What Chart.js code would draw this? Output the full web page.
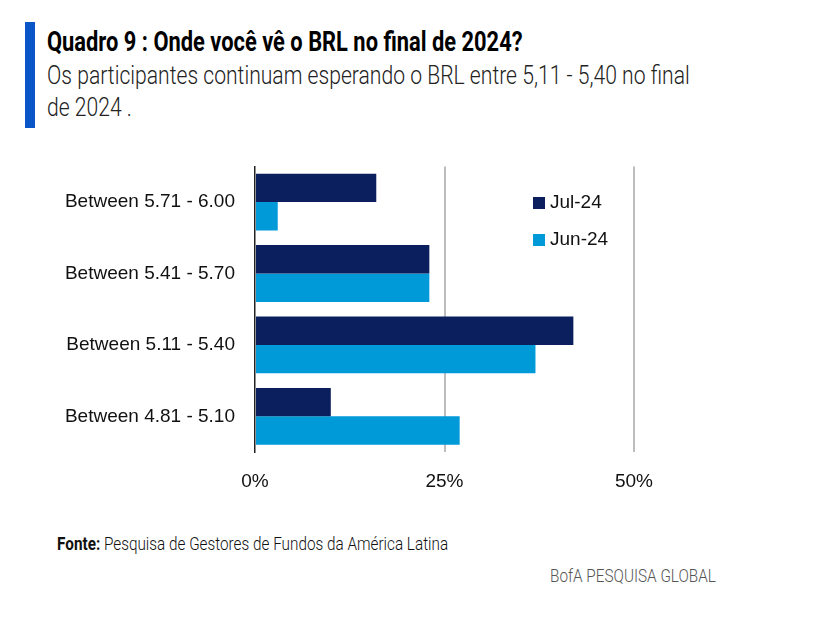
<!DOCTYPE html>
<html>
<head>
<meta charset="utf-8">
<script src="https://cdn.jsdelivr.net/npm/chart.js@4"></script>
<style>
  body { margin: 0; width: 819px; height: 619px; background: #fff; position: relative; overflow: hidden; font-family: Roboto, sans-serif; }
  .bar-mark { position: absolute; left: 25px; top: 22px; width: 10px; height: 106px; background: #0a55c8; }
  .txt { position: absolute; white-space: nowrap; transform-origin: left top; }
  #title { left: 47px; top: 26px; font-size: 27px; font-weight: 700; color: #000; transform: scaleX(0.81); }
  #sub1 { left: 47px; top: 61px; font-size: 25px; font-weight: 300; color: #222; transform: scaleX(0.845); }
  #sub2 { left: 47px; top: 93px; font-size: 25px; font-weight: 300; color: #222; transform: scaleX(0.845); }
  #fonte { left: 57px; top: 533px; font-size: 18px; font-weight: 300; color: #111; transform: scaleX(0.85); }
  #fonte b { font-weight: 700; }
  #bofa { left: 550px; top: 565px; font-size: 18px; font-weight: 300; color: #555; transform: scaleX(0.85); }
  #chart-wrap { position: absolute; left: 0; top: 135px; width: 700px; height: 365px; }
  #legend { position: absolute; left: 533px; top: 191px; font-family: "Liberation Sans", Arial, sans-serif; font-size: 19px; color: #111; }
  #legend ul { list-style: none; margin: 0; padding: 0; }
  #legend li { height: 37px; display: flex; align-items: flex-start; }
  #legend span { display: inline-block; width: 12px; height: 12px; margin: 6px 5px 0 0; }
</style>
</head>
<body>
<div class="bar-mark"></div>
<div class="txt" id="title">Quadro 9 : Onde você vê o BRL no final de 2024?</div>
<div class="txt" id="sub1">Os participantes continuam esperando o BRL entre 5,11 - 5,40 no final</div>
<div class="txt" id="sub2">de 2024 .</div>
<div id="chart-wrap"><canvas id="brl-chart" width="700" height="365"></canvas></div>
<div id="legend"></div>
<div class="txt" id="fonte"><b>Fonte:</b> Pesquisa de Gestores de Fundos da América Latina</div>
<div class="txt" id="bofa">BofA PESQUISA GLOBAL</div>
<script>
const categories = ['Between 5.71 - 6.00', 'Between 5.41 - 5.70', 'Between 5.11 - 5.40', 'Between 4.81 - 5.10'];
const seriesNames = ['Jul-24', 'Jun-24'];
const jul24 = [16, 23, 42, 10];
const jun24 = [3, 23, 37, 27];
const tickValues = [0, 25, 50];

const colors = ['#0b1f5e', '#009ad9'];

const ctx = document.getElementById('brl-chart');

new Chart(ctx, {
  type: 'bar',
  data: {
    labels: categories,
    datasets: [
      { label: seriesNames[0], data: jul24, backgroundColor: colors[0], borderWidth: 0 },
      { label: seriesNames[1], data: jun24, backgroundColor: colors[1], borderWidth: 0 }
    ]
  },
  options: {
    indexAxis: 'y',
    responsive: false,
    animation: false,
    categoryPercentage: 0.795,
    barPercentage: 1,
    layout: { padding: { top: 0, right: 66, left: 0, bottom: 0 } },
    plugins: {
      legend: { display: false },
      tooltip: { enabled: false }
    },
    scales: {
      x: {
        min: 0,
        max: 50,
        afterBuildTicks: axis => { axis.ticks = tickValues.map(v => ({ value: v })); },
        afterFit: axis => { axis.height = 48; },
        border: { display: false },
        grid: {
          drawTicks: false,
          color: c => c.tick && c.tick.value === 0 ? 'rgba(0,0,0,0)' : '#bdbdbd',
          lineWidth: 2
        },
        ticks: {
          padding: 18,
          color: '#111',
          font: { family: 'Liberation Sans', size: 19 },
          callback: v => v + '%'
        }
      },
      y: {
        afterFit: axis => { axis.width = 255; },
        border: { display: true, color: '#222', width: 1.5 },
        grid: { display: false, drawTicks: false },
        ticks: {
          padding: 20,
          color: '#111',
          font: { family: 'Liberation Sans', size: 19 }
        }
      }
    }
  }
});

// legend drawn as html, like the series boxes in the original
const legendHtml = seriesNames.map((label, i) => `
  <li><span style="background-color: ${colors[i]}"></span>${label}</li>
`).join('');
document.getElementById('legend').innerHTML = `<ul>${legendHtml}</ul>`;
</script>
</body>
</html>
